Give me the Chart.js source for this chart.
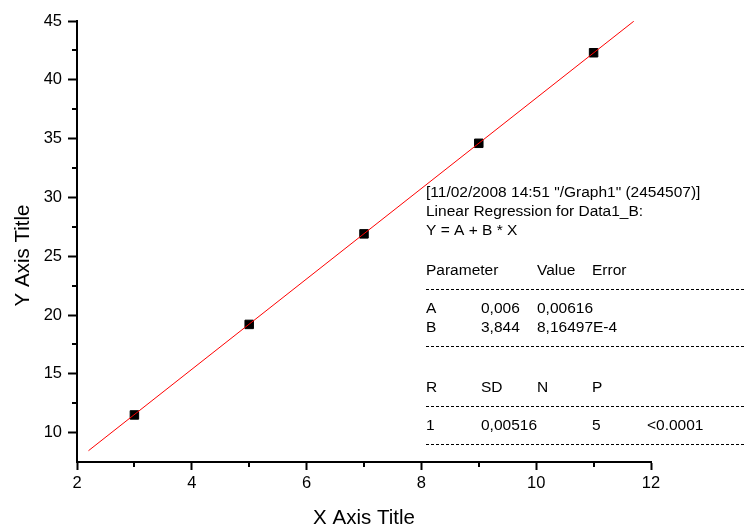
<!DOCTYPE html>
<html>
<head>
<meta charset="utf-8">
<script src="https://cdn.jsdelivr.net/npm/chart.js@4/dist/chart.umd.min.js"></script>
<style>
html,body{margin:0;padding:0;background:#fff;}
#wrap{width:744px;height:528px;position:relative;}
</style>
</head>
<body>
<div id="wrap"><canvas id="c" width="744" height="528"></canvas></div>
<script>
// ---- data ----
const xValues = [3, 5, 7, 9, 11];
const yValues = [11.5, 19.2, 26.9, 34.6, 42.3];
const fitX = [2.2, 11.7];
const fitY = [8.46, 44.98];
const xMinorTicks = [3, 5, 7, 9, 11];
const yMinorTicks = [12.5, 17.5, 22.5, 27.5, 32.5, 37.5, 42.5];
const xAxisTitle = 'X Axis Title';
const yAxisTitle = 'Y Axis Title';
const headerLines = ['[11/02/2008 14:51 "/Graph1" (2454507)]', 'Linear Regression for Data1_B:', 'Y = A + B * X'];
const paramHeader = ['Parameter', 'Value', 'Error'];
const paramRows = [['A', '0,006', '0,00616'], ['B', '3,844', '8,16497E-4']];
const statHeader = ['R', 'SD', 'N', 'P'];
const statRows = [['1', '0,00516', '5', '<0.0001']];

const FONT = 'Arial, "Liberation Sans", sans-serif';

const overlay = {
  id: 'overlay',
  afterDraw(chart) {
    const ctx = chart.ctx;
    const xs = chart.scales.x, ys = chart.scales.y;
    const ca = chart.chartArea;
    ctx.save();
    // minor ticks
    ctx.strokeStyle = '#000';
    ctx.lineWidth = 2;
    ctx.beginPath();
    xMinorTicks.forEach(v => {
      const px = Math.round(xs.getPixelForValue(v));
      ctx.moveTo(px, ca.bottom);
      ctx.lineTo(px, ca.bottom + 5);
    });
    yMinorTicks.forEach(v => {
      const py = Math.round(ys.getPixelForValue(v));
      ctx.moveTo(ca.left, py);
      ctx.lineTo(ca.left - 5, py);
    });
    ctx.stroke();

    // axis titles
    ctx.fillStyle = '#000';
    ctx.font = '20.5px ' + FONT;
    ctx.textAlign = 'center';
    ctx.textBaseline = 'alphabetic';
    ctx.fillText(xAxisTitle, (ca.left + ca.right) / 2, 524);
    ctx.save();
    ctx.translate(28.5, 255.5);
    ctx.rotate(-Math.PI / 2);
    ctx.fillText(yAxisTitle, 0, 0);
    ctx.restore();

    // regression report
    ctx.font = '15.5px ' + FONT;
    ctx.textAlign = 'left';
    const base = [196.5, 216, 235];
    headerLines.forEach((t, i) => ctx.fillText(t, 426, base[i]));
    const ph = [426, 537, 592];
    paramHeader.forEach((t, i) => ctx.fillText(t, ph[i], 274.5));
    const pr = [426, 481, 537];
    const prY = [313, 332];
    paramRows.forEach((row, r) => row.forEach((t, i) => ctx.fillText(t, pr[i], prY[r])));
    const sh = [426, 481, 537, 592];
    statHeader.forEach((t, i) => ctx.fillText(t, sh[i], 391.5));
    const sr = [426, 481, 592, 647];
    statRows.forEach(row => row.forEach((t, i) => ctx.fillText(t, sr[i], 430)));

    ctx.lineWidth = 1;
    ctx.setLineDash([3, 2]);
    ctx.beginPath();
    [289.5, 346.5, 406.5, 444.5].forEach(y => {
      ctx.moveTo(426, y);
      ctx.lineTo(744, y);
    });
    ctx.stroke();
    ctx.restore();
  }
};

new Chart(document.getElementById('c'), {
  type: 'scatter',
  data: {
    datasets: [
      {
        type: 'line',
        data: fitX.map((x, i) => ({x: x, y: fitY[i]})),
        borderColor: '#ff0000',
        borderWidth: 1,
        pointRadius: 0,
        fill: false,
        order: 0
      },
      {
        type: 'scatter',
        data: xValues.map((x, i) => ({x: x, y: yValues[i]})),
        pointStyle: 'rect',
        pointRadius: 6,
        pointBackgroundColor: '#000',
        pointBorderColor: '#000',
        pointBorderWidth: 1,
        order: 1
      }
    ]
  },
  options: {
    responsive: false,
    animation: false,
    devicePixelRatio: 1,
    layout: {padding: {top: 21, right: 93, left: 0, bottom: 0}},
    plugins: {legend: {display: false}, tooltip: {enabled: false}},
    scales: {
      x: {
        type: 'linear',
        min: 2, max: 12,
        afterFit(s) { s.height = 66; },
        ticks: {stepSize: 2, color: '#000', font: {family: FONT, size: 16.5}, padding: 4, maxRotation: 0},
        grid: {drawOnChartArea: false, tickLength: 8, tickColor: '#000', tickWidth: 2},
        border: {display: true, color: '#000', width: 2},
        title: {display: false}
      },
      y: {
        type: 'linear',
        min: 7.5, max: 45,
        afterFit(s) { s.width = 77; },
        ticks: {stepSize: 5, includeBounds: false, color: '#000', font: {family: FONT, size: 16.5}, padding: 6},
        grid: {drawOnChartArea: false, tickLength: 9, tickColor: '#000', tickWidth: 2},
        border: {display: true, color: '#000', width: 2},
        title: {display: false}
      }
    }
  },
  plugins: [overlay]
});
</script>
</body>
</html>
